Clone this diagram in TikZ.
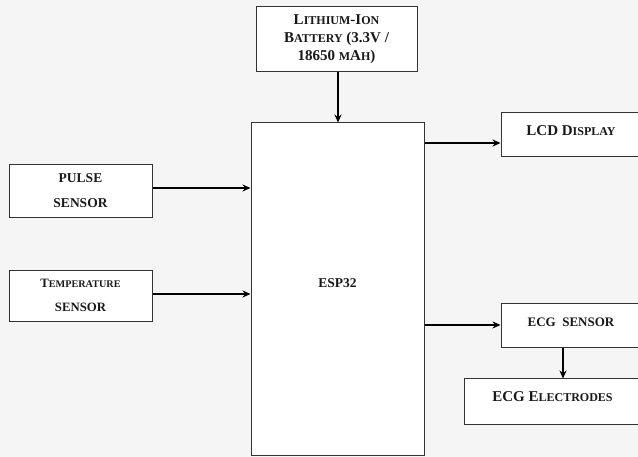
\documentclass[tikz,border=0pt]{standalone}
\usepackage{fontspec}
\setmainfont{Liberation Serif}
\usetikzlibrary{arrows.meta}
\newcommand\Sm[1]{{\fontsize{12}{12}\selectfont #1}}
\begin{document}
\begin{tikzpicture}[x=1pt,y=-1pt,
  box/.style={draw=black!80, fill=white, line width=1pt, inner sep=0pt, align=center},
  lbl/.style={font=\bfseries, text=black!90, align=center},
  arr/.style={line width=1.4pt, draw=black, -{Stealth[length=8pt,width=7pt]}}]
\useasboundingbox (0,0) rectangle (638,457);
\fill[black!4] (0,0) rectangle (638,457);
\clip (0,0) rectangle (638,457);
% boxes
\node[box, minimum width=161pt, minimum height=65pt] (bat) at (336.5,39.5) {};
\node[lbl, font=\bfseries\fontsize{15}{18}\selectfont] (batT) at (bat.center) {L\Sm{ITHIUM}-I\Sm{ON}\\B\Sm{ATTERY} (3.3V /\\18650 \Sm{M}A\Sm{H})};
\node[box, minimum width=173pt, minimum height=332pt] (esp) at (337.5,289) {};
\node[lbl, font=\bfseries\fontsize{13.5}{13.5}\selectfont] (espT) at (337.5,283) {ESP32};
\node[box, minimum width=143pt, minimum height=53pt] (pulse) at (80.5,191.5) {};
\node[lbl, font=\bfseries\fontsize{13.5}{25}\selectfont] (pulseT) at (80.5,190.5) {PULSE\\SENSOR};
\node[box, minimum width=143pt, minimum height=51pt] (temp) at (80.5,296.5) {};
\node[lbl, font=\bfseries\fontsize{12.75}{24}\selectfont] (tempT) at (80.5,295) {T{\fontsize{10.2}{10.2}\selectfont EMPERATURE}\\SENSOR};
\node[box, minimum width=140pt, minimum height=44pt] (lcd) at (571,135) {};
\node[lbl, font=\bfseries\fontsize{15}{15}\selectfont] (lcdT) at (571,131) {LCD D\Sm{ISPLAY}};
\node[box, minimum width=140pt, minimum height=44pt] (ecg) at (571,326) {};
\node[lbl, font=\bfseries\fontsize{13}{13}\selectfont] (ecgT) at (571,322) {ECG\ \ SENSOR};
\node[box, minimum width=177pt, minimum height=45pt] (elec) at (552.5,401.5) {};
\node[lbl, font=\bfseries\fontsize{15}{15}\selectfont] (elecT) at (552.5,397) {ECG E\Sm{LECTRODES}};
% connectors
\draw[arr] ([xshift=1.5pt]bat.south) -- ([xshift=1.5pt]bat.south |- esp.north);
\draw[arr] ([yshift=3.5pt]pulse.east) -- ([yshift=3.5pt]pulse.east -| esp.west);
\draw[arr] ([yshift=2.5pt]temp.east) -- ([yshift=2.5pt]temp.east -| esp.west);
\draw[arr] ([yshift=-8pt]lcd.west -| esp.east) -- ([yshift=-8pt]lcd.west);
\draw[arr] ([yshift=1pt]ecg.west -| esp.east) -- ([yshift=1pt]ecg.west);
\draw[arr] ([xshift=-8pt]ecg.south) -- ([xshift=-8pt]ecg.south |- elec.north);
\end{tikzpicture}
\end{document}
